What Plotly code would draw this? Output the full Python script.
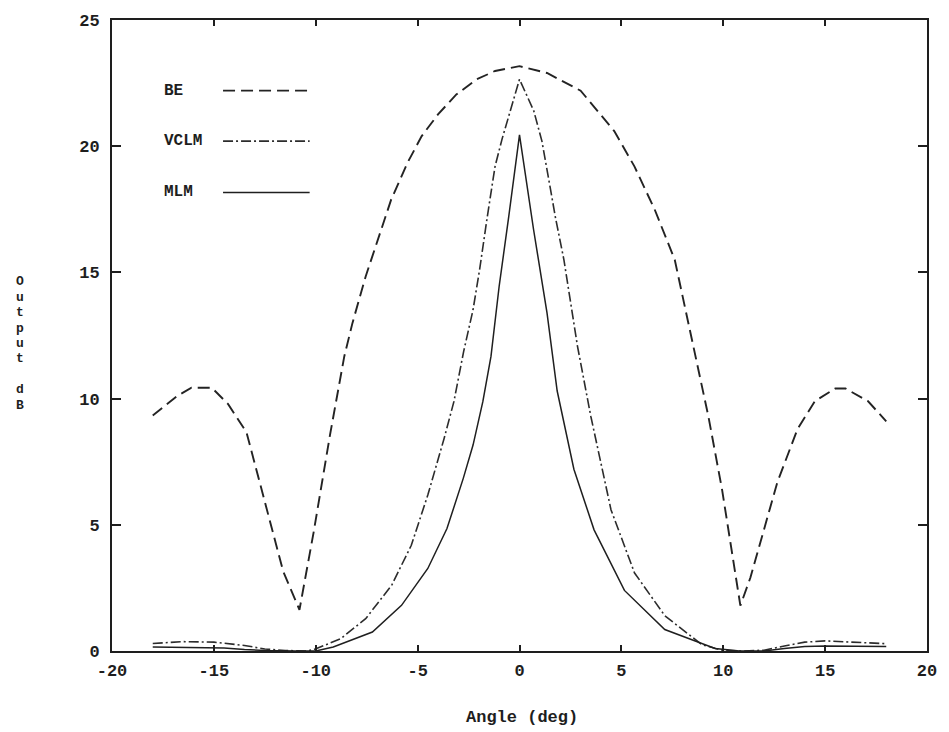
import plotly.graph_objects as go

# Beam output versus steering angle for the three estimators
be_angle = [-18, -16.8, -16.1, -15.1, -14.3, -13.4, -11.6, -10.8, -10.1, -9.3, -8.6, -8.2,
            -7.55, -6.9, -6.3, -5.5, -4.8, -4.0, -3.1, -2.1, -1.2, 0, 1.35, 3.0, 4.65, 5.64,
            6.63, 7.62, 8.61, 9.27, 9.94, 10.84, 11.33, 12.66, 13.65, 14.5, 15.5, 16.0, 17.1, 18.0]
be_db = [9.33, 10.1, 10.43, 10.43, 9.78, 8.67, 3.16, 1.63, 4.72, 8.56, 11.67, 12.99,
         14.84, 16.43, 17.88, 19.34, 20.4, 21.26, 22.05, 22.65, 22.98, 23.17, 22.9, 22.2, 20.6, 19.2,
         17.5, 15.5, 11.8, 9.3, 6.4, 1.8, 2.9, 6.7, 8.8, 9.9, 10.4, 10.4, 9.9, 9.1]

vclm_angle = [-18, -16.5, -15, -13.5, -12.5, -11.5, -10.5, -10.1, -8.77, -7.55, -6.27, -5.31,
              -4.5, -3.7, -3.22, -2.74, -2.28, -1.96, -1.6, -1.2, -0.85, -0.5, 0, 0.7, 1.1,
              1.52, 1.77, 2.18, 2.84, 3.5, 4.49, 5.64, 7.13, 8.95, 10.0, 11.0, 12.0, 13.0,
              14.0, 15.0, 16.5, 18.0]
vclm_db = [0.3, 0.37, 0.35, 0.22, 0.08, 0.02, 0.0, 0.05, 0.49, 1.28, 2.61, 4.19,
           6.18, 8.42, 9.88, 11.87, 13.52, 15.1, 17.1, 19.2, 20.3, 21.3, 22.65, 21.4, 20.2,
           18.3, 17.15, 15.5, 12.1, 9.3, 5.6, 3.1, 1.4, 0.25, 0.02, 0.0, 0.03, 0.2,
           0.35, 0.4, 0.35, 0.29]

mlm_angle = [-18, -16, -14.5, -13.5, -12.5, -11, -10, -9.14, -7.22, -5.79, -4.5, -3.56,
             -2.76, -2.28, -1.8, -1.4, -1.0, -0.53, 0, 0.69, 1.35, 1.85, 2.67, 3.66, 5.15,
             7.13, 9.6, 10.8, 12.0, 13.0, 14.0, 15.0, 16.5, 18.0]
mlm_db = [0.16, 0.15, 0.12, 0.06, 0.02, 0.0, 0.0, 0.16, 0.75, 1.81, 3.27, 4.85,
          6.84, 8.16, 9.88, 11.67, 14.44, 17.2, 20.45, 16.7, 13.4, 10.3, 7.2, 4.8, 2.4,
          0.85, 0.1, 0.0, 0.0, 0.1, 0.18, 0.2, 0.2, 0.18]

x_ticks = [-20, -15, -10, -5, 0, 5, 10, 15, 20]
x_tick_text = ["-20", "-15", "-10", "-5", "0", "5", "10", "15", "20"]
y_ticks = [0, 5, 10, 15, 20, 25]
y_tick_text = ["0", "5", "10", "15", "20", "25"]

x_title = "Angle (deg)"
y_title = "Output dB"

FONT = "Liberation Mono, Courier New, monospace"
INK = "#1e1e1e"

styles = {
    "BE": dict(dash="12px,6px", width=1.9, color="#232323"),
    "VCLM": dict(dash="10px,3px,2px,3px", width=1.6, color="#2c2c2c"),
    "MLM": dict(dash="solid", width=1.5, color="#1f1f1f"),
}

series = [
    ("BE", be_angle, be_db),
    ("VCLM", vclm_angle, vclm_db),
    ("MLM", mlm_angle, mlm_db),
]

fig = go.Figure()
for name, ang, db in series:
    fig.add_trace(go.Scatter(x=ang, y=db, mode="lines", name=name,
                             line=styles[name], showlegend=False))

# In-plot key: label on the left, line sample on the right
key_rows = [("BE", 22.2), ("VCLM", 20.2), ("MLM", 18.17)]
key_text_x = -17.55
key_line_x = (-14.55, -10.3)
for name, yk in key_rows:
    fig.add_annotation(x=key_text_x, y=yk, xref="x", yref="y", text=name,
                       showarrow=False, xanchor="left", yanchor="middle",
                       font=dict(family=FONT, size=16, color=INK, weight="bold"))
    st = styles[name]
    fig.add_shape(type="line", xref="x", yref="y", x0=key_line_x[0], x1=key_line_x[1],
                  y0=yk, y1=yk, line=dict(color=st["color"], width=st["width"], dash=st["dash"]))

# Plot frame geometry in pixels
W, H = 949, 732
L, R, T, B = 112, 13, 18, 81
pw, ph = W - L - R, H - T - B

def paper_x(px):
    return (px - L) / pw

def paper_y(py):
    return (H - B - py) / ph

fig.add_annotation(x=paper_x(527), y=paper_y(718), xref="paper", yref="paper",
                   text=x_title, showarrow=False, xanchor="center", yanchor="middle",
                   font=dict(family=FONT, size=17, color=INK, weight="bold"))

# Vertical, letter-stacked y title
step = 15.5
letters = list(y_title)
y_last = 404
y_first = y_last - step * (len(letters) - 1)
for i, ch in enumerate(letters):
    if ch == " ":
        continue
    fig.add_annotation(x=paper_x(19), y=paper_y(y_first + i * step), xref="paper", yref="paper",
                       text=ch, showarrow=False, xanchor="center", yanchor="middle",
                       height=14,
                       font=dict(family=FONT, size=13, color=INK, weight="bold"))

axis_common = dict(showgrid=False, zeroline=False, showline=True, linecolor=INK,
                   linewidth=1.8, ticks="inside", mirror="ticks", tickcolor=INK,
                   tickwidth=1.5,
                   tickfont=dict(family=FONT, size=17, color=INK, weight="bold"))

fig.update_xaxes(range=[-20, 20], tickvals=x_ticks, ticktext=x_tick_text, ticklen=6,
                 ticklabelstandoff=3, **axis_common)
fig.update_yaxes(range=[0, 25], tickvals=y_ticks, ticktext=y_tick_text, ticklen=9,
                 ticklabelstandoff=7, **axis_common)

fig.update_layout(width=W, height=H, margin=dict(l=L, r=R, t=T, b=B),
                  paper_bgcolor="white", plot_bgcolor="white", showlegend=False)

fig.write_html("out.html")
